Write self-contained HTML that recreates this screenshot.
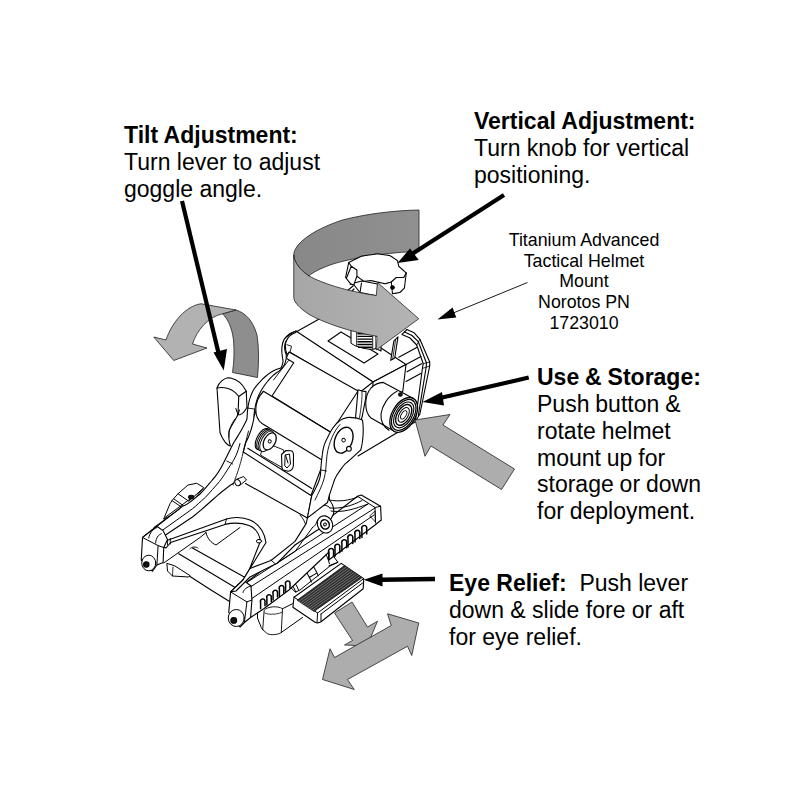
<!DOCTYPE html>
<html><head><meta charset="utf-8">
<style>
html,body{margin:0;padding:0;background:#fff;}
body{width:800px;height:800px;position:relative;overflow:hidden;font-family:"Liberation Sans",sans-serif;color:#000;}
.t{position:absolute;white-space:nowrap;font-size:23px;line-height:27px;}
.t b{font-weight:bold;}
.s{font-size:17.8px;line-height:20.75px;text-align:center;}
svg{position:absolute;left:0;top:0;}
</style></head><body>
<svg id="art" width="800" height="800" viewBox="0 0 800 800">
<defs>
<linearGradient id="gd" x1="0" x2="1" y1="0" y2="0"><stop offset="0" stop-color="#888888"/><stop offset="1" stop-color="#909090"/></linearGradient>
<linearGradient id="gl" x1="0" x2="1" y1="0" y2="0"><stop offset="0" stop-color="#a6a6a6"/><stop offset="1" stop-color="#b4b4b4"/></linearGradient>
</defs>
<!-- ARROWS-BACK -->
<g id="bigarrow-back" stroke="#222" stroke-width="0.8" stroke-linejoin="round">
<path d="M419,210 L419,251.5 C390,252 350,258 330,265 C318,269.5 312,273 309,276 C300,270 294,262 293.75,255 C294,244 312,230 342.5,220 C368,213.5 395,210.5 419,210 Z" fill="url(#gd)"/>
</g>
<!-- MOUNT -->
<g id="mount" fill="#fff" stroke="#000" stroke-width="1.1" stroke-linejoin="round" stroke-linecap="round">
<!-- ===== upper assembly ===== -->
<!-- block lower/back body (right-bottom face) -->
<path d="M402.8,391 L415,422 L386,440 L358,456 L340,440 Z" stroke="none"/>
<path d="M358,456 L415,422" fill="none"/>
<!-- side plate right -->
<path d="M402,334.4 L406.9,329.5 L414.2,332.8 L419.9,339.3 L429.7,362 L429.7,366 L419.9,414 L415,422 L415.9,417.3 L422.4,368.5 L423.2,363.7 L416.7,345 L410,338 Z"/>
<path d="M404.5,332 L412,335.5 L418.3,341.7 L426.4,362.8 L426.2,367 L418.3,415.7" fill="none"/>
<path d="M419.9,339.3 L416.7,345 M429.7,362 L423.2,363.7 M429.7,366 L422.4,368.5" fill="none" stroke-width="0.8"/>
<!-- lines block->plate -->
<path d="M398.8,357.2 L416.7,347.4 M406,364.5 L421,356.5 M407,371.8 L421.5,363.7 M406,381.5 L420.7,373.4" fill="none"/>
<!-- top block top face -->
<path d="M296,332 L329,313.5 L406,364.5 L373,382 Z"/>
<!-- top block right face -->
<path d="M373,382 L406,364.5 L402.8,391.3 L372,410 Z"/>
<!-- vertical post -->
<path d="M393.9,340.9 L398,336.8 L394.7,358 L390.7,360.4 Z"/>
<path d="M395.6,339.8 L392.6,359.5" fill="none" stroke-width="0.8"/>
<!-- top block front strip + left cap -->
<path d="M296,331 L373,382 L359,393 L290,352.25 L286.25,354.5 C281,349 281,340 290,333.5 Z"/>
<path d="M287,339.5 C285,343 285,349 286.5,353" fill="none"/>
<path d="M287,344.75 L291.5,346.25 L290,352.25" fill="none" stroke-width="0.9"/>
<!-- inset parallelogram -->
<path d="M328,341 L341,332 L378,354 L364,363 Z"/>
<!-- shaft lower -->
<path d="M351,330 L351,343 C355,347.5 372,350.5 376,348.5 L376,334 Z"/>
<path d="M356.7,332 v14 M372.7,333 v15.5" fill="none" stroke-width="0.9"/><path d="M358,333.7 h13.5 M358,336.4 h13.5 M358,339.1 h13.5 M358,341.8 h13.5 M358,344.5 h13.5 M358.5,347.2 h13" fill="none" stroke-width="1.4"/>
<path d="M376,336 L381,338 L381,351 L376,348.5" />
<!-- big lower face of block between arms -->
<path d="M289,352 L358,391 L331,432.5 L272,396 L293.75,362.75 L286.25,358.25 Z"/>
<path d="M288.5,360.5 L273.5,380" fill="none" stroke-width="0.9"/>
<!-- button cylinder -->
<path d="M383.3,382.4 L413.4,398.6 L393.9,431 L371,418 C364,412 364,396 371,388 C375,384 379,382.5 383.3,382.4 Z"/>
<path d="M397,391.3 C388,396 382,406 381,414 C380.5,421 384,427 389,430.3" fill="none"/>
<g transform="translate(403.7,414.9) rotate(-59)">
<ellipse rx="19" ry="11.5" stroke-width="1.3"/>
<ellipse rx="17" ry="10" stroke-width="1.3" stroke-dasharray="2.5 1"/>
<ellipse rx="14.2" ry="8.2" stroke-width="1.1"/>
<ellipse rx="11.5" ry="6.4" stroke-width="1.4" stroke-dasharray="3 0.8"/>
<ellipse rx="8.2" ry="4.4" stroke-width="1"/>
<ellipse rx="4.6" ry="2.4" stroke-width="0.9"/>
</g>
<circle cx="400.4" cy="394.5" r="1.8" fill="#222"/>
<!-- lug -->
<path d="M358,389.7 L362,391 L366,391.6 C366.5,398 364,406 362.5,415 L361,421 L355.5,417.6 L356.5,407.5 Z"/>
<path d="M362,391 C362.5,398 361,408 359.5,418" fill="none" stroke-width="0.8"/>
<!-- ===== lower base ===== -->
<!-- base underside / cross bar white backing -->
<path d="M243.25,452 L311,495.5 L307.4,518 L300,540 L265,538 L243,578 L212,590 L174,565.5 L166,548 L205,531 L226,524 L232,500 L233.5,477 Z" stroke="none"/>
<path d="M245.5,483.5 L307.4,518" fill="none"/>
<!-- crossbar lines -->
<path d="M178.75,553.75 L236,588 M192.5,548 L246,578 M173.75,566 L211,590 L232,603" fill="none"/>
<path d="M190,548.75 C192,546.5 196,546.5 198,548" fill="none" stroke-width="0.9"/>
<!-- cutout under U plate -->
<path d="M206,532.5 C207,538 211,543 216,545 L240,527.5" fill="none" stroke-width="1"/>
<path d="M163.75,563 L200,537.5 L206,532.5" fill="none" stroke-width="1"/>
<!-- left foot -->
<path d="M166.9,563.75 L167.5,571 L172.5,576 L188.75,577 L190,575.6 L175,566 Z" stroke-width="1"/>
<path d="M172.5,576 L173,567" fill="none" stroke-width="0.8"/>
<!-- pin near arm -->
<path d="M228.25,471 C226.5,476 228,481 233.5,485" fill="none" stroke-dasharray="2 1" stroke-width="0.9"/>
<path d="M236,479.5 L243.5,476.5 L246.5,480 L239.5,485.5 Z" stroke-width="1"/>
<ellipse cx="237.6" cy="482.6" rx="2.6" ry="3.2" transform="rotate(-30 237.6 482.6)" stroke-width="1"/>
<!-- shading arc on base floor -->
<path d="M300,515 C303,518 305,522 306,526" fill="none" stroke-width="0.9"/>
<!-- fork inner U plate -->
<path d="M158,543.75 L192.5,531.25 L226.5,519 C232,517 242,516.5 250,520 C258,523.5 264,530 266,542.5 L243,580 L237,590 L244,583 L260.5,541 C259,533 256,528 249,525.5 C242,523 233,522.5 225,524.4 L170.6,542.5 L166,548 Z"/>
<path d="M226.5,519 L225,524.4 M167.5,539.4 L167.5,545 M170.3,538.5 L170.3,544" fill="none" stroke-width="0.9"/>
<ellipse cx="259" cy="541.2" rx="2.6" ry="1.8" stroke-width="1"/>
<!-- side bump on left arm -->
<path d="M163.75,518.75 L170,503.75 L172,500.6 L178,493.75 L188,485 L196.75,483.25 L203.75,487.6 L196,497 L186,508 Z" stroke-width="1"/>
<path d="M172,500.6 L181.25,506.9 M174,499 L189.4,510 M178,493.75 L188.75,501.25 L203,488.5 M165,517.5 L190,499" fill="none" stroke-width="1"/>
<ellipse cx="191.2" cy="497" rx="2.6" ry="1.8" fill="#111"/>
<!-- left arm lower (to end block) -->
<path d="M233.5,443 C230,450 226,458 223,464 C220,470 216,476 212.5,479.75 C208,485 204,490 200.25,493.75 C194,499 188,505 182.5,506.25 L156.9,526.25 L142.5,537.5 L158,540 L192.5,517 C204,508 212,500 219.5,493.75 C224,490 229,486 233.5,483.25 C238,474 243,462 245.5,443 Z" stroke="none"/>
<path d="M233.5,443 C230,450 226,458 223,464 C220,470 216,476 212.5,479.75 C208,485 204,490 200.25,493.75 C194,499 188,505 182.5,506.25 L156.9,526.25 L142.5,537.5" fill="none"/>
<path d="M158,540 L192.5,517 C204,508 212,500 219.5,493.75 C224,490 229,486 233.5,483.25" fill="none"/>
<path d="M243.25,452 C241,462 238,472 233.5,483.25" fill="none" stroke-width="0.9" stroke-dasharray="4 1"/>
<path d="M240,443.5 C238,452 235,459 230,465.75 C226,472 223,477 219.5,481.5 C215,487 210,492 205.5,497.25 C200,502 196,506 192.5,508.75 L160,532" fill="none" stroke-width="1"/>
<path d="M226.75,461 L232.75,464 M153.75,527.5 L180,508.75" fill="none" stroke-width="0.9"/>
<!-- left end block -->
<path d="M142.5,537.5 L156.9,526.25 L163,530.6 L167.5,539.4 L163.75,547.5 L163.1,562.5 L156.9,565 L152.5,571.25 L141.25,560 Z"/>
<path d="M142.5,537.5 L158.1,545.6 L156.9,565 M158.1,545.6 L163.75,547.5 M148.75,538 C149.5,533 153,529 156.9,527.5 M155.6,543 C156,538 158,535 161.25,533.75" fill="none" stroke-width="1"/>
<ellipse cx="148.75" cy="563" rx="7" ry="7.8" stroke-width="1"/>
<circle cx="146.3" cy="564.5" r="2.7" fill="#111"/>
<!-- cylinder under rail -->
<path d="M285,580.9 C288,573 296,567 303,565 L329,550 L337.9,562.3 L330,566 L300,590 L295.7,592 Z" stroke-width="1"/>
<path d="M285,580.9 C289,581.5 294,586 295.7,592 M287.8,577.5 C292.5,579.5 296.5,584 298.5,590" fill="none" stroke-width="1"/>
<path d="M301.9,565.7 C304.5,568.5 309,576 311.4,582 M309.2,561.2 C312,564 316,570 318.2,575.8 M305.8,571.8 L312.6,567.4 M309.2,577.5 L316,573.5" fill="none" stroke-width="1.1" stroke-dasharray="3 0.7"/>
<path d="M323.75,551.25 C326,554 328.5,559 329.4,563.75 M328.9,565.7 L337.9,562.3" fill="none" stroke-width="1"/>
<!-- front rail body -->
<path d="M357.5,496.25 L361.25,495 L380.6,506.25 L381.25,520 L375,525 L328.75,560 L329,552 L289,590 L263.75,608.75 L250.6,617.5 L246.9,601.9 L243,592.5 L244.4,584 Z"/>
<path d="M368,504 L244.4,584 M375,508 L251,586.5 L243,592.5 M374,515 L246.9,601.9 M357.5,496.25 L375,507.5 L375.6,523 M380.6,506.25 L375,507.5" fill="none" stroke-width="1"/>
<path d="M370,515.6 L375,511 L375.3,521.5 Z" fill="none" stroke-width="0.8"/>
<!-- slots right -->
<g fill="none" stroke-width="1.5">
<path d="M328.75,560 v-7.5 a2.4,2.8 0 0 1 4.8,-2.2 v6.3"/>
<path d="M335,556.25 v-8 a2.4,2.8 0 0 1 4.8,-2.2 v6.6"/>
<path d="M341.9,551.25 v-7.5 a2.4,2.8 0 0 1 4.8,-2.2 v6.2"/>
<path d="M348,546.9 v-8 a2.4,2.8 0 0 1 4.8,-2.2 v6.7"/>
<path d="M355,541.9 v-7.5 a2.4,2.8 0 0 1 4.8,-2.2 v6.2"/>
<path d="M361.9,537.5 v-8 a2.4,2.8 0 0 1 4.8,-2.2 v6.7"/>
<!-- slots left -->
<path d="M260.6,608.75 v-6 a2.2,2.6 0 0 1 4.4,-2 v5"/>
<path d="M266.9,605 v-6.5 a2.2,2.6 0 0 1 4.4,-2 v5.2"/>
<path d="M273.1,600 v-6 a2.2,2.6 0 0 1 4.4,-2 v5"/>
<path d="M279.4,596.25 v-7 a2.2,2.6 0 0 1 4.4,-2 v5.8"/>
<path d="M285.6,591.25 v-6.5 a2.2,2.6 0 0 1 4.4,-2 v5.4"/>
</g>
<!-- foot under rail -->
<path d="M264.4,610 C267,606.5 278,605.5 282.5,608.75 L281.25,632.5 C279,634.5 271,635.5 267.5,633.75 L263,630 Z" stroke-width="0.9"/>
<path d="M264.8,613 C269,615 278,614.5 282.3,612" fill="none" stroke-width="0.8" stroke-dasharray="2 0.8"/>
<path d="M257.5,618 L261.25,627.5 L263,630 M257.5,618 L257.5,613" fill="none" stroke-width="1"/>
<path d="M282.5,608.75 L292.5,603.75 M281.25,632.5 L302.5,617.5" fill="none" stroke-width="1"/>
<!-- rail left end block -->
<path d="M230.6,591.9 L243,580 L251,586 L251.9,600 L250.6,617.5 L244.4,622.5 L240,627 L228.75,612.5 Z"/>
<path d="M230.6,591.9 L246.9,601.9 L244.4,622.5 M246.9,601.9 L251.9,600 M235.6,590.6 C236.5,586.5 239,583.5 242,582 M243,592.5 C243.5,589.5 247,587 251,586" fill="none" stroke-width="1"/>
<ellipse cx="236.25" cy="618" rx="8" ry="8.5" stroke-width="1"/>
<circle cx="233.75" cy="620.4" r="2.9" fill="#111"/>
<!-- right arm lower (foot disc to left end) -->
<path d="M307.4,518 L311.75,495.5 L329.25,495.5 L329.4,500 C332,503 334.5,508 333.5,514 C331,520 325,528 317.5,530 L295,545 L277,563.3 L250,577 L236,591 L230.6,591.9 L243,580 L250,568.4 L271,560.5 L295,541.4 L306.25,523.4 Z"/>
<path d="M313.75,511.25 C316,507 320,505 322.5,505 C326,505 329,506.5 330,508" fill="none" stroke-width="1" stroke-dasharray="5 0.6"/>
<path d="M317.5,520 C316,525 314,527 313,526.75 L295,551.5 L277,563.3" fill="none" stroke-width="1"/>
<path d="M270.8,560 L275.5,564" fill="none" stroke-width="0.9"/>
<g transform="translate(325,524.4) rotate(-25)">
<ellipse rx="7.4" ry="8.8" stroke-width="1.1" stroke-dasharray="2.6 0.6"/>
<ellipse rx="4.2" ry="4.8" stroke-width="1.5"/>
<circle r="1.4" stroke-width="1"/>
</g>
<!-- curves from arm foot to rail right end -->
<path d="M329.4,500 C338,502 350,500.5 357.5,497 M330,508 C340,509 352,506 362,500.5 M331,511 C342,513 355,509 368,504" fill="none" stroke-width="1"/>
<!-- lever pad -->
<path d="M294,597.2 L341.25,563.4 L363.75,578.6 L363.2,588.75 L321,621.8 C319,623 317,623 315.4,622.5 L292.9,607.3 Z"/>
<path d="M294,597.2 L317.6,613 L363.75,578.6 M317.6,613 L317,622.5 M321,614 L362.6,583 M321,614 L321,621.4" fill="none" stroke-width="1"/>
<path d="M297.4,600 L344.6,565.5 L361.5,578 L314.25,611.25 Z" fill="#2e2e2e" stroke="#111" stroke-width="0.8"/>
<g fill="none" stroke="#a8a8a8" stroke-width="0.55">
<path d="M299.3,601.2 L346.5,566.9"/>
<path d="M301.2,602.5 L348.4,568.3"/>
<path d="M303.1,603.7 L350.2,569.7"/>
<path d="M305,605 L352.1,571.1"/>
<path d="M306.9,606.2 L354,572.5"/>
<path d="M308.8,607.5 L355.9,573.9"/>
<path d="M310.6,608.7 L357.7,575.3"/>
<path d="M312.5,610 L359.6,576.7"/>
</g>
<!-- ===== middle: recess, roller, wheel, latch ===== -->
<!-- recess floor / front base face -->
<path d="M248.5,431 L243.25,452 L311,495.5 L325,458 L331,432.5 L263,392 Z"/>
<path d="M247.75,448.25 L311.75,488.5" fill="none"/>
<!-- latch -->
<path d="M274,446 L283.75,450 L283,468 L268,459.5 L260.5,455 L262,450 Z" stroke-width="0.9"/>
<path d="M281.5,454.5 L286,450.5 L291,450.7 C293,451 293.6,453 293.5,456 L293.4,465.5 C293,469 291,471 288,471.3 L283,470 L282,468 Z"/>
<path d="M285.5,455 L289.5,454 L290.5,464 L287,468 L285,466 Z M285.5,455 L288,463" fill="none" stroke-width="1"/>
<!-- roller -->
<path d="M263.5,391.25 L331,432.5 L322,460 L262,423.5 C254,418 253,402 263.5,391.25 Z"/>
<!-- knurled wheel -->
<g transform="translate(262.5,439) rotate(-62)">
<ellipse cx="0" cy="0" rx="11.5" ry="5.5" stroke-width="1.2" stroke-dasharray="1.2 0.6"/>
<ellipse cx="0" cy="1.6" rx="11.5" ry="5.5" stroke-width="1" stroke-dasharray="1.2 0.6"/>
<ellipse cx="0" cy="3.2" rx="11.5" ry="5.5" stroke-width="1"/>
<ellipse cx="0" cy="5" rx="11.3" ry="5.5" stroke-width="0.9"/>
</g>
<g transform="translate(269.7,441.4) rotate(-62)">
<ellipse rx="9.2" ry="5.6" stroke-width="1.3"/>
<circle r="1.6" stroke-width="0.9"/>
</g>
<!-- left arm upper (yoke) -->
<path d="M296,331 C290,333.5 285,338 284,339.5 C281,346 281.5,352 283,360.5 C283,364 282,366 281,368 C272,370 263,377 254,389 C250,396 247.5,404 247,419 C244,426 238,436 233.5,443 L245.5,443 C249,437 252,428 253.75,419 C254.5,404 258,393 267.5,381.5 C271,377 275,373.5 278,371.75 C282,369 285,366 286.25,358.25 L286.25,354.5 C284,350 284,343 287,339.5 C289,336 292,333.5 296,332.5 Z" stroke="none"/>
<path d="M296,331 C290,333.5 285,338 284,339.5 C281,346 281.5,352 283,360.5 C283,364 282,366 281,368 C272,370 263,377 254,389 C250,396 247.5,404 247,419 C244,426 238,436 233.5,443" fill="none" stroke-dasharray="7 0.5"/>
<path d="M245.5,443 C249,437 252,428 253.75,419 C254.5,404 258,393 267.5,381.5 C271,377 275,373.5 278,371.75 C282,369 285,366 286.25,358.25 L286.25,354.5 C284,350 284,343 287,339.5 C289,336 292,333.5 296,332.5" fill="none" stroke-dasharray="7 0.5"/>
<path d="M247.5,408 L254,409 M248.5,431 L243.25,452" fill="none" stroke-width="0.9"/>
<!-- right arm pivot disc (upper end) -->
<path d="M337,423 C341,419 347,416.5 352,417.6 C358,418 362,420 362.5,420.25 C364,430 363,442 360.75,450 C355,455 350,460 345,464 C340,470 336,476 334.5,479.75 L329.25,495.5 L327.5,502.5 L307.4,518 L311.75,495.5 C316,488 320,480 320.5,474.5 C321,466 321.5,460 322.25,455.25 C323,447 325,442 327.5,437.75 C330,432 333,427 337,423 Z" stroke-dasharray="8 0.5"/>
<path d="M340,424.5 C334,431 329,442 327,455 C326,464 326,472 324,479 C322,486 318,494 315,500" fill="none" stroke-width="0.9"/>
<path d="M321,470 L326.5,471" fill="none" stroke-width="0.9"/>
<g transform="translate(343.6,440.2) rotate(-68)">
<ellipse rx="13.5" ry="8.6" stroke-dasharray="2.6 0.7" stroke-width="1.4"/>
<circle r="1.8" stroke-width="0.9"/>
</g>
<circle cx="348.9" cy="448.8" r="2.4" stroke-width="1.1"/>
<!-- tilt lever -->
<path d="M217,388 C218,384 223,378.5 227.75,377.75 C236,378 242,383 246.25,391.25 L247,407 C245,412 240,416 238,414.5 C236,419 231,426 229,431 C228.5,437 229,442 230.5,446 C226,445 222,438 220,432.5 Z" stroke-dasharray="9 0.5"/>
<path d="M217,388 C223,386.5 233,388 238.75,396.5 L238,414.5 M238.75,396.5 L246.25,391.25" fill="none"/>
<path d="M235.8,408.5 L238,414.5 L239.5,410" fill="none" stroke-width="1"/>
<path d="M235,419 C231,424 228.5,431 229,437" fill="none" stroke-dasharray="2 1" stroke-width="0.9"/>
<!-- knob stem/hex -->
<path d="M350,284 L354,285 L360,292.5 L377.5,296 L377.5,284 L362,281 Z"/>
<path d="M360,292.5 L361.5,283" fill="none"/>
<path d="M347,291 L353,286 M350,293 L354,289" fill="none"/>
<!-- knob body -->
<path d="M348.75,262.5 L361.25,256.25 L377.5,253.75 L390,255.6 L397.5,260.6 L398.75,266.25 L406.25,273 L404.4,288 L400,292.5 L392.5,293.75 L391.25,282 L385,283.75 L371.25,280.6 L363.75,281.25 L356.9,276.25 L353.75,285 L350.6,283.75 L345.6,277.5 Z" stroke-dasharray="5 0.6"/>
<path d="M348.75,262.5 L351.25,266.25 L356.9,270 L356.9,276.25 M391.25,282 L396.25,277.5 L403.75,277.5 L406.25,273 M351.25,266.25 L346.5,278" fill="none"/>
<circle cx="392.5" cy="287.5" r="1.8" fill="#000"/>
</g>
<!-- ARROWS-FRONT -->
<g id="bigarrow-front" stroke="#222" stroke-width="0.8" stroke-linejoin="round">
<path d="M293.75,255 C294,262 300,270 309,276 C322,283 345,291 376.25,295.5 L377.5,282.5 L418.75,318.75 L376.25,350 L377,336.25 C350,332 325,323 310,315 C299,308 294,302 293.75,297.5 Z" fill="url(#gl)"/>
</g>
<g id="tiltarrow" stroke="#222" stroke-width="0.8" stroke-linejoin="round">
<path d="M222.5,313.75 C228,319 232,328 233.5,340 C234.5,352 234,362 232.5,372.5 L257.5,377.5 C259,362 259,348 257,335 C253,321 246,313 236,310 Z" fill="#8e8e8e"/>
<path d="M236,310 L201,303.75 C186,306 172,322 166,340 L153.75,337 L173.75,360.5 L207,348 L192.5,344 C197,330 208,317 222.5,313.75 Z" fill="#b2b2b2"/>
</g>
<g id="grayarrows" stroke="#222" stroke-width="0.8" stroke-linejoin="round" fill="#adadad">
<path d="M415,420 L450,414.5 L443,425 L514.5,469 L501.5,489.5 L431,446 L425,456.25 Z"/>
<path d="M334.5,613 L352,602 L367.5,627 L377.5,621.25 L367,646 L344.5,645 L352.5,640.5 Z"/>
<path d="M322.5,679.5 L330,648.75 L334.5,657.5 L391.25,625.5 L387.5,613.75 L418.75,623 L411.75,655.5 L407.5,646.25 L347.5,679.5 L354.25,689.5 Z"/>
</g>
<g id="blackarrows" stroke="#000" fill="#000">
<line x1="182" y1="201" x2="219" y2="355" stroke-width="4.2"/>
<path d="M213.5,352.5 L227,349 L223.75,370.5 Z" stroke="none"/>
<line x1="504" y1="195" x2="412" y2="254" stroke-width="4.2"/>
<path d="M410,248.5 L418.75,260 L397.5,263 Z" stroke="none"/>
<line x1="528.75" y1="377.5" x2="440" y2="398" stroke-width="4.2"/>
<path d="M442,392 L444,405.5 L422.5,402 Z" stroke="none"/>
<line x1="435" y1="579" x2="381" y2="579.8" stroke-width="4.6"/>
<path d="M382.5,573.5 L382.5,586.5 L363.75,579.7 Z" stroke="none"/>
<line x1="527.5" y1="282.5" x2="452" y2="313.5" stroke-width="0.9"/>
<path d="M452.5,307.5 L456.25,317.5 L437.5,319.5 Z" stroke="none"/>
</g>
</svg>
<div class="t" style="left:124px;top:122px;"><b>Tilt Adjustment:</b><br><span>Turn lever to adjust</span><br><span>goggle angle.</span></div>
<div class="t" style="left:474px;top:108px;"><b>Vertical Adjustment:</b><br><span>Turn knob for vertical</span><br><span>positioning.</span></div>
<div class="t s" style="left:484px;top:229.8px;width:200px;"><span>Titanium Advanced</span><br><span>Tactical Helmet</span><br><span>Mount</span><br><span>Norotos PN</span><br><span>1723010</span></div>
<div class="t" style="left:537px;top:364px;line-height:26.85px;word-spacing:-0.5px;"><b>Use &amp; Storage:</b><br><span>Push button &amp;</span><br><span>rotate helmet</span><br><span>mount up for</span><br><span>storage or down</span><br><span>for deployment.</span></div>
<div class="t" style="left:449px;top:570px;"><b>Eye Relief:</b><span>&nbsp; Push lever</span><br><span>down &amp; slide fore or aft</span><br><span>for eye relief.</span></div>
</body></html>
